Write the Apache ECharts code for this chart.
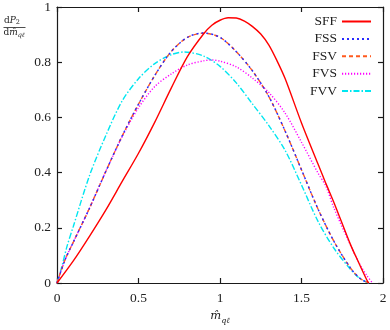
<!DOCTYPE html>
<html><head><meta charset="utf-8">
<script src="https://cdn.jsdelivr.net/npm/echarts@6/dist/echarts.min.js"></script>
<style>html,body{margin:0;padding:0;background:#fff}#c{width:390px;height:330px}</style>
</head><body><div id="c"></div>
<script>
const seriesNames = ['SFF', 'FSS', 'FSV', 'FVS', 'FVV'];
const xTickLabels = ['0', '0.5', '1', '1.5', '2'];
const yTickLabels = ['0', '0.2', '0.4', '0.6', '0.8', '1'];

const sffX = [0,0.1,0.2,0.3,0.4,0.5,0.6,0.7,0.8,0.9,0.95,1.0,1.05,1.1,1.15,1.2,1.25,1.3,1.35,1.4,1.5,1.6,1.65,1.7,1.8,1.85,1.9,1.913];
const sffY = [0,0.08,0.17,0.265,0.368,0.47,0.583,0.705,0.82,0.903,0.934,0.952,0.961,0.96,0.949,0.929,0.902,0.862,0.805,0.74,0.58,0.433,0.36,0.29,0.14,0.075,0.012,0];

const fssX = [0,0.05,0.1,0.2,0.3,0.4,0.5,0.6,0.7,0.8,0.9,1.0,1.1,1.2,1.3,1.4,1.5,1.6,1.7,1.8,1.86,1.913];
const fssY = [0,0.085,0.148,0.272,0.405,0.533,0.648,0.752,0.838,0.89,0.906,0.89,0.838,0.768,0.675,0.55,0.41,0.27,0.15,0.055,0.016,0];

const fsvX = [0,0.05,0.1,0.2,0.3,0.4,0.5,0.6,0.7,0.8,0.9,1.0,1.1,1.2,1.3,1.4,1.5,1.6,1.7,1.8,1.86,1.913];
const fsvY = [0,0.085,0.148,0.272,0.405,0.533,0.648,0.752,0.838,0.89,0.905,0.89,0.838,0.768,0.675,0.55,0.41,0.27,0.15,0.055,0.016,0];

const fvsX = [0,0.05,0.1,0.2,0.3,0.4,0.5,0.6,0.7,0.8,0.9,0.95,1.0,1.1,1.2,1.3,1.4,1.5,1.6,1.65,1.7,1.8,1.86,1.9,1.935];
const fvsY = [0,0.085,0.148,0.272,0.405,0.53,0.635,0.712,0.757,0.79,0.805,0.808,0.804,0.783,0.742,0.69,0.615,0.51,0.40,0.35,0.27,0.138,0.065,0.028,0];

const fvvX = [0,0.03,0.06,0.1,0.2,0.3,0.4,0.5,0.6,0.7,0.78,0.9,1.0,1.1,1.2,1.3,1.4,1.5,1.6,1.7,1.8,1.85,1.9,1.915];
const fvvY = [0,0.06,0.13,0.205,0.39,0.535,0.66,0.74,0.795,0.827,0.837,0.822,0.785,0.725,0.648,0.57,0.48,0.355,0.225,0.125,0.05,0.02,0.003,0];

function zip(xs, ys) { return xs.map((x, i) => [x, ys[i]]); }

const serif = 'Liberation Serif';
const mathFont = 'DejaVu Serif';
const axisCol = '#1a1a1a';

const styles = [
  { color: '#ff0000', type: 'solid' },
  { color: '#2a2aff', type: [2, 3] },
  { color: '#ff5a1e', type: [4, 3] },
  { color: '#ff00ff', type: [1.2, 1.8] },
  { color: '#00e6f0', type: [6, 2, 1.5, 2] }
];
const dataSets = [zip(sffX, sffY), zip(fssX, fssY), zip(fsvX, fsvY), zip(fvsX, fvsY), zip(fvvX, fvvY)];

const baseX = {
  type: 'value', min: 0, max: 2, interval: 0.5,
  splitLine: { show: false },
  axisLine: { show: true, onZero: false, lineStyle: { color: axisCol, width: 1.2 } },
  axisTick: { show: true, inside: true, length: 5, lineStyle: { color: axisCol, width: 1.2 } }
};
const baseY = {
  type: 'value', min: 0, max: 1, interval: 0.2,
  splitLine: { show: false },
  axisLine: { show: true, onZero: false, lineStyle: { color: axisCol, width: 1.2 } },
  axisTick: { show: true, inside: true, length: 5, lineStyle: { color: axisCol, width: 1.2 } }
};

const chart = echarts.init(document.getElementById('c'), null, { renderer: 'canvas' });
chart.setOption({
  animation: false,
  backgroundColor: '#fff',
  grid: { left: 57, right: 7, top: 5.5, bottom: 32, containLabel: false },
  legend: {
    orient: 'vertical', right: 18, top: 14.5, padding: 0,
    align: 'right', itemWidth: 29, itemHeight: 14, itemGap: 3.4,
    data: seriesNames,
    itemStyle: { opacity: 0 },
    textStyle: { fontFamily: serif, fontSize: 13.5, color: '#222' }
  },
  xAxis: [
    Object.assign({}, baseX, {
      position: 'bottom',
      axisLabel: { show: true, margin: 8, fontFamily: serif, fontSize: 13.5, color: '#222',
        formatter: v => xTickLabels[Math.round(v / 0.5)] },
      name: '{m|m\u0302}{s|q\u2113}', nameLocation: 'middle', nameGap: 25,
      nameTextStyle: { rich: {
        m: { fontFamily: mathFont, fontStyle: 'italic', fontSize: 11.5, color: '#222', lineHeight: 17 },
        s: { fontFamily: mathFont, fontStyle: 'italic', fontSize: 8, color: '#222', lineHeight: 8, verticalAlign: 'bottom' }
      } }
    }),
    Object.assign({}, baseX, { position: 'top', axisLabel: { show: false } })
  ],
  yAxis: [
    Object.assign({}, baseY, {
      position: 'left',
      axisLabel: { show: true, margin: 6, fontFamily: serif, fontSize: 13.5, color: '#222',
        formatter: v => yTickLabels[Math.round(v / 0.2)] }
    }),
    Object.assign({}, baseY, { position: 'right', axisLabel: { show: false } })
  ],
  graphic: [
    { type: 'text', left: 4, top: 16, style: {
      text: '{d|d}{i|P}{s|2}',
      rich: {
        d: { fontFamily: mathFont, fontSize: 9, fill: '#222', lineHeight: 11 },
        i: { fontFamily: mathFont, fontStyle: 'italic', fontSize: 9, fill: '#222', lineHeight: 11 },
        s: { fontFamily: mathFont, fontSize: 6.5, fill: '#222', lineHeight: 6, verticalAlign: 'bottom' }
      } } },
    { type: 'line', shape: { x1: 3.5, y1: 27.5, x2: 25.5, y2: 27.5 }, style: { stroke: '#222', lineWidth: 0.8 } },
    { type: 'text', left: 3.5, top: 28.5, style: {
      text: '{d|d}{i|m\u0302}{s|q\u2113}',
      rich: {
        d: { fontFamily: mathFont, fontSize: 9, fill: '#222', lineHeight: 11 },
        i: { fontFamily: mathFont, fontStyle: 'italic', fontSize: 9, fill: '#222', lineHeight: 11 },
        s: { fontFamily: mathFont, fontStyle: 'italic', fontSize: 6.5, fill: '#222', lineHeight: 6, verticalAlign: 'bottom' }
      } } }
  ],
  series: seriesNames.map((name, i) => ({
    name, type: 'line', xAxisIndex: 0, yAxisIndex: 0,
    data: dataSets[i], symbol: 'none', showSymbol: false,
    smooth: 0.3,
    lineStyle: { color: styles[i].color, type: styles[i].type, width: 1.4 },
    itemStyle: { color: styles[i].color },
    z: 5 - i
  }))
});
</script>
</body></html>
